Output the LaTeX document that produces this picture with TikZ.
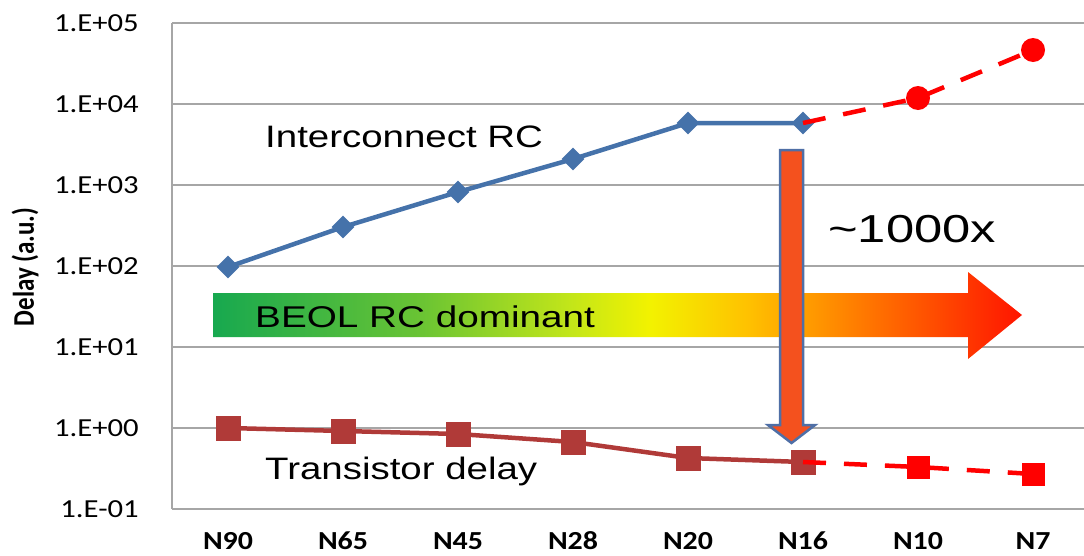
\documentclass[tikz,border=0pt]{standalone}
\usepackage{fontspec}
\usepackage{graphicx}
\setmainfont{Liberation Sans}
\newfontfamily\calfont{Carlito}
\usetikzlibrary{shapes.geometric}

\definecolor{icblue}{RGB}{69,114,170}
\definecolor{trred}{RGB}{176,58,56}
\definecolor{gridgray}{RGB}{166,166,166}
\definecolor{drop}{RGB}{244,81,30}
\definecolor{dropedge}{RGB}{79,111,166}

% green -> yellow -> red fill of the big arrow
\pgfdeclarehorizontalshading{beolshade}{100bp}{rgb(0bp)=(0.09,0.66,0.31); rgb(25bp)=(0.09,0.66,0.31); rgb(38bp)=(0.42,0.77,0.2); rgb(47bp)=(0.76,0.9,0.1); rgb(52bp)=(0.95,0.95,0); rgb(58bp)=(1,0.76,0); rgb(64.5bp)=(1,0.5,0); rgb(75bp)=(1,0.08,0); rgb(100bp)=(1,0.08,0)}

\newcommand{\stretchx}[2]{\scalebox{#1}[1]{#2}}

\begin{document}
\begin{tikzpicture}[x=1pt, y=-1pt]
  % Define grid, series and label styles
  \tikzstyle{gridline} = [draw=gridgray, line width=1.5pt]
  \tikzstyle{icline} = [draw=icblue, line width=4.5pt]
  \tikzstyle{trline} = [draw=trred, line width=4.5pt]
  \tikzstyle{projline} = [draw=red, line width=4.5pt, dash pattern=on 23pt off 18pt]
  \tikzstyle{icmark} = [diamond, fill=icblue, inner sep=0pt, minimum size=23pt]
  \tikzstyle{trmark} = [rectangle, fill=trred, inner sep=0pt, minimum size=25pt]
  \tikzstyle{icproj} = [circle, fill=red, inner sep=0pt, minimum size=24pt]
  \tikzstyle{trproj} = [rectangle, fill=red, inner sep=0pt, minimum size=23pt]
  \tikzstyle{ticklabel} = [anchor=east, inner sep=0pt, font=\calfont\fontsize{26}{30}\selectfont]
  \tikzstyle{nodelabel} = [inner sep=0pt, font=\calfont\bfseries\fontsize{26}{30}\selectfont]
  \tikzstyle{bigtext} = [anchor=base west, inner sep=0pt, font=\fontsize{31}{36}\selectfont]

  \useasboundingbox (0,0) rectangle (1084,555);

  % grid and axis labels
  \foreach \y/\lab [count=\i] in {23/1.E+05, 104/1.E+04, 185/1.E+03, 266/1.E+02, 347/1.E+01, 428/1.E+00, 509/1.E-01} {
    \draw[gridline] (172,\y) -- (1084,\y);
    \node[ticklabel] (tick\i) at (139,\y) {\stretchx{1.18}{\lab}};
  }
  \draw[gridline] (172,23) -- (172,509);
  \foreach \x/\lab in {228/N90, 343/N65, 458/N45, 573/N28, 688/N20, 803/N16, 918/N10, 1033/N7}
    \node[nodelabel] (x\lab) at (\x,541) {\stretchx{1.15}{\lab}};
  \node[rotate=90, inner sep=0pt, font=\calfont\bfseries\fontsize{25}{30}\selectfont] (ylab) at (25,267) {\scalebox{1}[1.2]{Delay (a.u.)}};

  % big arrow
  \shade[shading=beolshade] (213,293) -- (968,293) -- (968,272) -- (1022,315) -- (968,359) -- (968,337) -- (213,337) -- cycle;
  \node[bigtext, font=\fontsize{30}{36}\selectfont] (beol) at (255,327) {\stretchx{1.29}{BEOL RC dominant}};

  % interconnect series
  \foreach \x/\y [count=\i] in {228/267, 343/227, 458/192, 573/159, 688/123, 803/123, 918/98, 1033/50}
    \coordinate (ic\i) at (\x,\y);
  \draw[icline] (ic1) -- (ic2) -- (ic3) -- (ic4) -- (ic5) -- (ic6);
  \foreach \i in {1,...,6}
    \node[icmark] (icm\i) at (ic\i) {};
  \draw[projline] (ic6) -- (ic7) -- (ic8);
  \node[icproj] (icm7) at (ic7) {};
  \node[icproj] (icm8) at (ic8) {};

  % transistor series
  \foreach \x/\y [count=\i] in {228/428, 343/431, 458/434, 573/442, 688/458, 803/462, 918/467, 1033/474}
    \coordinate (tr\i) at (\x,\y);
  \draw[trline] (tr1) -- (tr2) -- (tr3) -- (tr4) -- (tr5) -- (tr6);
  \foreach \i in {1,...,6}
    \node[trmark] (trm\i) at (tr\i) {};
  \draw[projline] (tr6) -- (tr7) -- (tr8);
  \node[trproj] (trm7) at (tr7) {};
  \node[trproj] (trm8) at (tr8) {};

  % labels and the 1000x drop
  \node[bigtext] (iclab) at (265,147) {\stretchx{1.24}{Interconnect RC}};
  \node[bigtext] (trlab) at (265,479) {\stretchx{1.24}{Transistor delay}};
  \filldraw[fill=drop, draw=dropedge, line width=2.5pt] (780,150) -- (803,150) -- (803,425) -- (815,425) -- (791.5,443) -- (768,425) -- (780,425) -- cycle;
  \node[bigtext, font=\fontsize{39}{46}\selectfont] (gap) at (828,242) {\stretchx{1.3}{\textasciitilde 1000x}};
\end{tikzpicture}
\end{document}
